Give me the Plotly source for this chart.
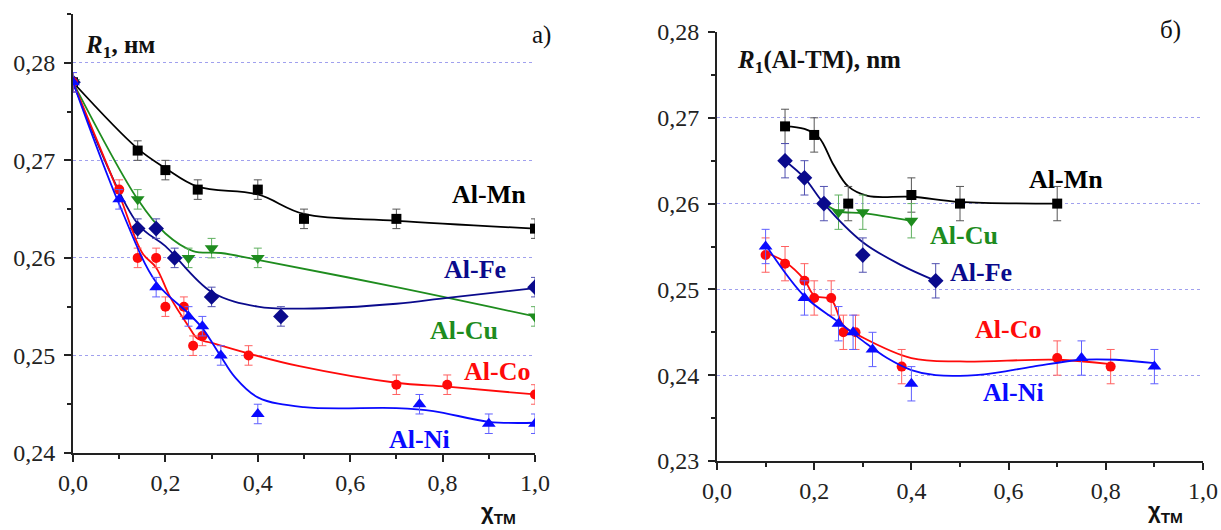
import plotly.graph_objects as go

# ---------------- Panel a) data ----------------
a_mn_x = [0.0, 0.14, 0.20, 0.27, 0.40, 0.50, 0.70, 1.00]
a_mn_y = [0.278, 0.271, 0.269, 0.267, 0.267, 0.264, 0.264, 0.263]
a_cu_x = [0.0, 0.14, 0.25, 0.30, 0.40, 1.00]
a_cu_y = [0.278, 0.266, 0.260, 0.261, 0.260, 0.254]
a_fe_x = [0.0, 0.14, 0.18, 0.22, 0.30, 0.45, 1.00]
a_fe_y = [0.278, 0.263, 0.263, 0.260, 0.256, 0.254, 0.257]
a_co_x = [0.0, 0.10, 0.14, 0.18, 0.20, 0.24, 0.26, 0.28, 0.38, 0.70, 0.81, 1.00]
a_co_y = [0.278, 0.267, 0.260, 0.260, 0.255, 0.255, 0.251, 0.252, 0.250, 0.247, 0.247, 0.246]
a_ni_x = [0.0, 0.10, 0.18, 0.25, 0.28, 0.32, 0.40, 0.75, 0.90, 1.00]
a_ni_y = [0.278, 0.266, 0.257, 0.254, 0.253, 0.250, 0.244, 0.245, 0.243, 0.243]

# fitted curves
a_mn_cx = [0.0, 0.14, 0.20, 0.27, 0.40, 0.50, 0.70, 1.00]
a_mn_cy = [0.278, 0.2712, 0.2692, 0.2673, 0.2665, 0.2645, 0.2638, 0.2630]
a_cu_cx = [0.0, 0.14, 0.20, 0.26, 0.32, 0.40, 0.70, 1.00]
a_cu_cy = [0.278, 0.2660, 0.2625, 0.2607, 0.2605, 0.2598, 0.2570, 0.2540]
a_fe_cx = [0.0, 0.14, 0.20, 0.30, 0.40, 0.50, 0.70, 0.81, 1.00]
a_fe_cy = [0.278, 0.2635, 0.2612, 0.2565, 0.2550, 0.2548, 0.2553, 0.2559, 0.2569]
a_co_cx = [0.0, 0.10, 0.15, 0.18, 0.21, 0.25, 0.27, 0.30, 0.38, 0.49, 0.70, 0.81, 1.00]
a_co_cy = [0.278, 0.2665, 0.2605, 0.2590, 0.2560, 0.2530, 0.2517, 0.2513, 0.2502, 0.2489, 0.2472, 0.2468, 0.2460]
a_ni_cx = [0.0, 0.10, 0.18, 0.25, 0.28, 0.32, 0.35, 0.40, 0.50, 0.70, 0.78, 0.90, 1.00]
a_ni_cy = [0.278, 0.2655, 0.2575, 0.2543, 0.2528, 0.2499, 0.2478, 0.2457, 0.2447, 0.2446, 0.2443, 0.2432, 0.2431]

# ---------------- Panel б) data ----------------
b_mn_x = [0.14, 0.20, 0.27, 0.40, 0.50, 0.70]
b_mn_y = [0.269, 0.268, 0.260, 0.261, 0.260, 0.260]
b_cu_x = [0.25, 0.30, 0.40]
b_cu_y = [0.259, 0.259, 0.258]
b_fe_x = [0.14, 0.18, 0.22, 0.30, 0.45]
b_fe_y = [0.265, 0.263, 0.260, 0.254, 0.251]
b_co_x = [0.10, 0.14, 0.18, 0.20, 0.235, 0.26, 0.285, 0.38, 0.70, 0.81]
b_co_y = [0.254, 0.253, 0.251, 0.249, 0.249, 0.245, 0.245, 0.241, 0.242, 0.241]
b_ni_x = [0.10, 0.18, 0.25, 0.28, 0.32, 0.40, 0.75, 0.90]
b_ni_y = [0.255, 0.249, 0.246, 0.245, 0.243, 0.239, 0.242, 0.241]

b_mn_cx = [0.14, 0.18, 0.21, 0.24, 0.27, 0.31, 0.40, 0.50, 0.70]
b_mn_cy = [0.2690, 0.2687, 0.2677, 0.2645, 0.2620, 0.2609, 0.2608, 0.2602, 0.2600]
b_cu_cx = [0.22, 0.25, 0.30, 0.40]
b_cu_cy = [0.2600, 0.2591, 0.2589, 0.2580]
b_fe_cx = [0.14, 0.18, 0.22, 0.30, 0.38, 0.45]
b_fe_cy = [0.2650, 0.2630, 0.2600, 0.2555, 0.2528, 0.2510]
b_co_cx = [0.10, 0.14, 0.18, 0.20, 0.235, 0.26, 0.30, 0.40, 0.50, 0.70, 0.81]
b_co_cy = [0.2543, 0.2532, 0.2511, 0.2493, 0.2488, 0.2458, 0.2444, 0.2420, 0.2416, 0.2418, 0.2413]
b_ni_cx = [0.10, 0.18, 0.25, 0.30, 0.35, 0.40, 0.45, 0.55, 0.65, 0.75, 0.82, 0.90]
b_ni_cy = [0.2552, 0.2492, 0.2462, 0.2440, 0.2420, 0.2406, 0.2400, 0.2401, 0.2410, 0.2418, 0.2418, 0.2414]

# labels
a_labels = [("Al-Mn", 0.90, 0.2665), ("Al-Fe", 0.87, 0.2588), ("Al-Cu", 0.846, 0.2526),
            ("Al-Co", 0.918, 0.2484), ("Al-Ni", 0.751, 0.2414)]
b_labels = [("Al-Mn", 0.719, 0.2628), ("Al-Cu", 0.508, 0.2563), ("Al-Fe", 0.543, 0.2520),
            ("Al-Co", 0.599, 0.2453), ("Al-Ni", 0.611, 0.2380)]

colors = {"Al-Mn": "#000000", "Al-Cu": "#1e8c1e", "Al-Fe": "#0a0a8c",
          "Al-Co": "#ff0a0a", "Al-Ni": "#0a0aff"}
err_colors = {"Al-Mn": "#555555", "Al-Cu": "#5fb05f", "Al-Fe": "#5050b0",
              "Al-Co": "#ff6060", "Al-Ni": "#6060ff"}
symbols = {"Al-Mn": "square", "Al-Cu": "triangle-down", "Al-Fe": "diamond",
           "Al-Co": "circle", "Al-Ni": "triangle-up"}
sizes = {"Al-Mn": 10, "Al-Cu": 12, "Al-Fe": 12, "Al-Co": 10, "Al-Ni": 12}

fig = go.Figure()

def add_series(name, x, y, cx, cy, err, xa, ya):
    fig.add_trace(go.Scatter(x=cx, y=cy, mode="lines", line=dict(color=colors[name], width=1.8, shape="spline", smoothing=1.0),
                             xaxis=xa, yaxis=ya, showlegend=False, hoverinfo="skip"))
    fig.add_trace(go.Scatter(x=x, y=y, mode="markers",
                             marker=dict(symbol=symbols[name], size=sizes[name], color=colors[name], line=dict(width=0)),
                             error_y=dict(type="constant", value=err, thickness=1, width=4, color=err_colors[name]),
                             xaxis=xa, yaxis=ya, showlegend=False, name=name))

add_series("Al-Mn", a_mn_x, a_mn_y, a_mn_cx, a_mn_cy, 0.001, "x", "y")
add_series("Al-Cu", a_cu_x, a_cu_y, a_cu_cx, a_cu_cy, 0.001, "x", "y")
add_series("Al-Fe", a_fe_x, a_fe_y, a_fe_cx, a_fe_cy, 0.001, "x", "y")
add_series("Al-Co", a_co_x, a_co_y, a_co_cx, a_co_cy, 0.001, "x", "y")
add_series("Al-Ni", a_ni_x, a_ni_y, a_ni_cx, a_ni_cy, 0.001, "x", "y")

add_series("Al-Mn", b_mn_x, b_mn_y, b_mn_cx, b_mn_cy, 0.002, "x2", "y2")
add_series("Al-Cu", b_cu_x, b_cu_y, b_cu_cx, b_cu_cy, 0.002, "x2", "y2")
add_series("Al-Fe", b_fe_x, b_fe_y, b_fe_cx, b_fe_cy, 0.002, "x2", "y2")
add_series("Al-Co", b_co_x, b_co_y, b_co_cx, b_co_cy, 0.002, "x2", "y2")
add_series("Al-Ni", b_ni_x, b_ni_y, b_ni_cx, b_ni_cy, 0.002, "x2", "y2")

serif = "Liberation Serif"
tickfont = dict(family=serif, size=24, color="#222222")
grid = dict(showgrid=True, gridcolor="#a0a0ee", griddash="dot", gridwidth=1)

def xaxis(domain, anchor):
    return dict(domain=domain, anchor=anchor, range=[0, 1], dtick=0.2, tick0=0, tickformat=".1f",
                automargin=False, ticklabelstandoff=0,
                showline=True, linecolor="#222222", linewidth=2, ticks="outside", ticklen=7, tickwidth=2,
                tickcolor="#222222", showgrid=False, zeroline=False, tickfont=tickfont,
                minor=dict(dtick=0.1, ticks="outside", ticklen=4, tickwidth=2, tickcolor="#222222", showgrid=False))

def yaxis(domain, anchor, rng):
    d = dict(domain=domain, anchor=anchor, range=rng, dtick=0.01, tick0=0.23, tickformat=".2f",
             automargin=False, ticklabelstandoff=4,
             showline=True, linecolor="#222222", linewidth=2, ticks="outside", ticklen=7, tickwidth=2,
             tickcolor="#222222", zeroline=False, tickfont=tickfont,
             minor=dict(dtick=0.005, ticks="outside", ticklen=4, tickwidth=2, tickcolor="#222222", showgrid=False))
    d.update(grid)
    return d

fig.update_layout(
    width=1221, height=530, margin=dict(l=0, r=0, t=0, b=0),
    paper_bgcolor="white", plot_bgcolor="white", separators=", ",
    font=dict(family=serif),
    xaxis=xaxis([73/1221, 535/1221], "y"),
    yaxis=yaxis([77/530, 516/530], "x", [0.24, 0.285]),
    xaxis2=xaxis([717/1221, 1203/1221], "y2"),
    yaxis2=yaxis([69/530, 498/530], "x2", [0.23, 0.28]),
)

lblfont = dict(family=serif, size=26)
ann = []
for name, x, y in a_labels:
    ann.append(dict(x=x, y=y, xref="x", yref="y", text="<b>%s</b>" % name, showarrow=False,
                    font=dict(lblfont, color=colors[name])))
for name, x, y in b_labels:
    ann.append(dict(x=x, y=y, xref="x2", yref="y2", text="<b>%s</b>" % name, showarrow=False,
                    font=dict(lblfont, color=colors[name])))

ann += [
    dict(x=83/1221, y=1-47/530, xref="paper", yref="paper", xanchor="left", yanchor="middle", showarrow=False,
         text="<b><i>R</i><sub>1</sub>, нм</b>", font=dict(family=serif, size=25, color="#111111")),
    dict(x=735/1221, y=1-62/530, xref="paper", yref="paper", xanchor="left", yanchor="middle", showarrow=False,
         text="<b><i>R</i><sub>1</sub>(Al-TM), nm</b>", font=dict(family=serif, size=25, color="#111111")),
    dict(x=541/1221, y=1-35/530, xref="paper", yref="paper", xanchor="center", yanchor="middle", showarrow=False,
         text="a)", font=dict(family=serif, size=25, color="#111111")),
    dict(x=1170/1221, y=1-30/530, xref="paper", yref="paper", xanchor="center", yanchor="middle", showarrow=False,
         text="б)", font=dict(family=serif, size=25, color="#111111")),
    dict(x=498/1221, y=1-513/530, xref="paper", yref="paper", xanchor="center", yanchor="middle", showarrow=False,
         text="<b>χ<sub>TM</sub></b>", font=dict(family="Liberation Sans", size=22, color="#111111")),
    dict(x=1165/1221, y=1-512/530, xref="paper", yref="paper", xanchor="center", yanchor="middle", showarrow=False,
         text="<b>χ<sub>TM</sub></b>", font=dict(family="Liberation Sans", size=22, color="#111111")),
]
fig.update_layout(annotations=ann)

fig.write_html("out.html")
